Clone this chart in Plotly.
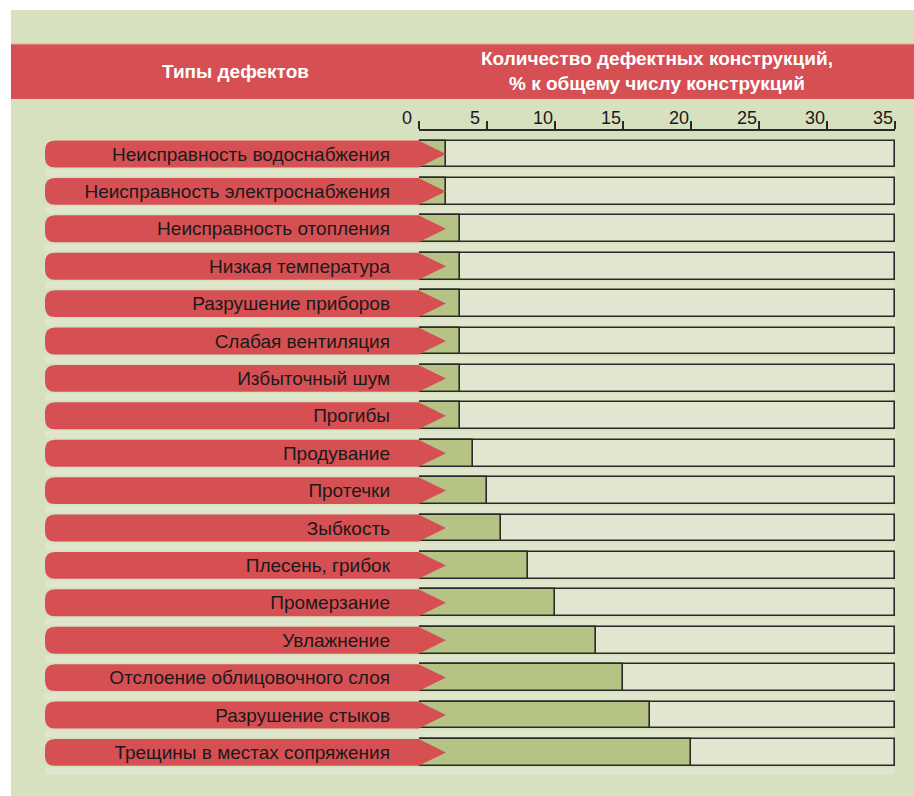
import plotly.graph_objects as go

# ---------------- data ----------------
categories = [
    "Неисправность водоснабжения",
    "Неисправность электроснабжения",
    "Неисправность отопления",
    "Низкая температура",
    "Разрушение приборов",
    "Слабая вентиляция",
    "Избыточный шум",
    "Прогибы",
    "Продувание",
    "Протечки",
    "Зыбкость",
    "Плесень, грибок",
    "Промерзание",
    "Увлажнение",
    "Отслоение облицовочного слоя",
    "Разрушение стыков",
    "Трещины в местах сопряжения",
]
values = [2, 2, 3, 3, 3, 3, 3, 3, 4, 5, 6, 8, 10, 13, 15, 17, 20]
scale_max = 35
tick_values = [0, 5, 10, 15, 20, 25, 30, 35]
header_left = "Типы дефектов"
header_right = "Количество дефектных конструкций,<br>% к общему числу конструкций"

# ---------------- style / layout constants ----------------
W, H = 914, 796
BG = "#d7e0bf"
STRIPE = "#dfe6cc"
RED = "#d65053"
GREEN = "#b5c385"
LIGHT = "#e2e5d0"
EDGE = "#2a2a2a"
FONT = "Liberation Sans, Arial, sans-serif"
HFONT = "Liberation Sans Narrow, Arial Narrow, Liberation Sans, Arial, sans-serif"

X0_PX, X1_PX = 419, 895          # plot area horizontal extent (value 0 .. 35)
ROW0_PX, ROW_STEP = 154, 37.4    # centre of first row, row pitch (px)
BAR_W = 0.72                     # bar thickness in row units

def px(x):
    return x / W

def py(y):
    return 1 - y / H

n = len(categories)
y_top = -ROW0_PX / ROW_STEP
y_bot = (H - ROW0_PX) / ROW_STEP

fig = go.Figure()
fig.add_trace(go.Bar(
    y=categories, x=[scale_max] * n, orientation="h", width=BAR_W,
    marker=dict(color=LIGHT, line=dict(color=EDGE, width=1.6)),
    hoverinfo="skip", showlegend=False,
))
fig.add_trace(go.Bar(
    y=categories, x=values, orientation="h", width=BAR_W,
    marker=dict(color=GREEN, line=dict(color=EDGE, width=1.6)),
    hoverinfo="skip", showlegend=False,
))

shapes = []
# background panel and header band
shapes.append(dict(type="rect", xref="paper", yref="paper", x0=px(11), x1=1,
                   y0=0, y1=py(10), fillcolor=BG, line=dict(width=0), layer="below"))
shapes.append(dict(type="rect", xref="paper", yref="paper", x0=px(11), x1=1,
                   y0=py(99), y1=py(44), fillcolor=RED, line=dict(width=0), layer="below"))
shapes.append(dict(type="line", xref="paper", yref="paper", x0=px(11), x1=1,
                   y0=py(44), y1=py(44), line=dict(color="#e6a98f", width=1), layer="below"))

# light stripes between rows
sh = 3.5 / ROW_STEP
for i in range(n):
    c = i + 0.5
    shapes.append(dict(type="rect", xref="paper", yref="y", x0=px(45), x1=px(X1_PX),
                       y0=c - sh, y1=c + sh, fillcolor=STRIPE, line=dict(width=0),
                       layer="below"))

# red label pills with arrow heads
L, R, T = px(45), px(X0_PX), px(446)
rx = 10 / W
ry = 10 / ROW_STEP
half = BAR_W / 2
for i in range(n):
    yt, yb = i - half, i + half
    body = (f"M {L+rx},{yt} L {R},{yt} L {R},{yb} L {L+rx},{yb} "
            f"Q {L},{yb} {L},{yb-ry} L {L},{yt+ry} Q {L},{yt} {L+rx},{yt} Z")
    shapes.append(dict(type="path", xref="paper", yref="y", path=body,
                       fillcolor=RED, line=dict(width=0), layer="below"))
    head = f"M {R-0.5/W},{yt} L {T},{i} L {R-0.5/W},{yb} Z"
    shapes.append(dict(type="path", xref="paper", yref="y", path=head,
                       fillcolor=RED, line=dict(width=0), layer="above"))

annotations = [
    dict(text=f"<b>{header_left}</b>", x=px(235), y=py(72), xref="paper", yref="paper",
         showarrow=False, xanchor="center", yanchor="middle",
         font=dict(family=HFONT, size=19, color="white")),
    dict(text=f"<b>{header_right}</b>", x=px(657), y=py(71), xref="paper", yref="paper",
         showarrow=False, xanchor="center", yanchor="middle",
         font=dict(family=HFONT, size=19, color="white")),
]

fig.update_layout(
    width=W, height=H, autosize=False,
    margin=dict(l=0, r=0, t=0, b=0, pad=0, autoexpand=False),
    paper_bgcolor="white", plot_bgcolor="rgba(0,0,0,0)",
    barmode="overlay", bargap=0,
    shapes=shapes, annotations=annotations,
    xaxis=dict(
        domain=[px(X0_PX), px(X1_PX)], range=[0, scale_max],
        anchor="free", position=py(130), side="top", automargin=False,
        showline=True, linecolor=EDGE, linewidth=2,
        ticks="outside", ticklen=8, tickwidth=2, tickcolor=EDGE,
        tickvals=tick_values, ticktext=[str(v) for v in tick_values],
        ticklabelshift=-12, ticklabelstandoff=-10,
        tickfont=dict(family=HFONT, size=18, color="#1a1a1a"),
        showgrid=False, zeroline=False, fixedrange=True,
    ),
    yaxis=dict(
        domain=[0, 1], type="category", automargin=False,
        categoryorder="array", categoryarray=categories,
        range=[y_bot, y_top], anchor="x",
        ticks="", showline=False, showgrid=False, zeroline=False,
        ticklabelstandoff=28,
        tickfont=dict(family=FONT, size=19, color="#1a1a1a"),
        fixedrange=True,
    ),
)

fig.write_html(
    "out.html",
    config={"displayModeBar": False, "responsive": False},
    post_script="document.body.style.margin='0';document.body.style.overflow='hidden';",
)
